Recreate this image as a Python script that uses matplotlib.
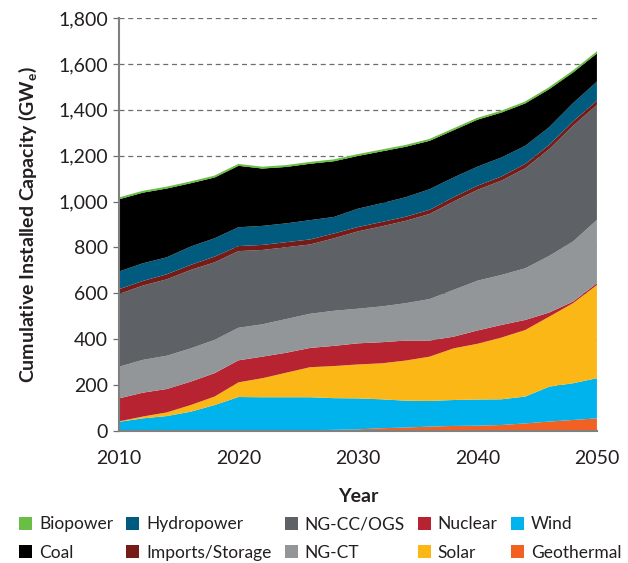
import matplotlib
matplotlib.use("Agg")
import matplotlib.pyplot as plt
from matplotlib.patches import Patch
import numpy as np

plt.rcParams['font.family'] = ['Lato', 'DejaVu Sans']

years = [2010, 2012, 2014, 2016, 2018, 2020, 2022, 2024, 2026, 2028, 2030,
         2032, 2034, 2036, 2038, 2040, 2042, 2044, 2046, 2048, 2050]

# Installed capacity by technology (GWe), stacked bottom to top
geothermal = [2, 2, 2, 2, 2, 2, 2, 3, 3, 5, 7, 12, 15, 19, 22, 23, 26, 33, 41, 48, 55]
wind = [38, 53, 63, 82, 111, 146, 145, 144, 144, 138, 135, 126, 117, 112, 113, 114, 112, 117, 152, 160, 175]
solar = [2, 8, 16, 29, 37, 64, 83, 107, 131, 140, 148, 157, 175, 193, 225, 243, 269, 290, 305, 349, 406]
nuclear = [100, 104, 102, 102, 102, 96, 94, 87, 84, 88, 92, 92, 87, 70, 51, 58, 55, 44, 18, 7, 8]
ng_ct = [138, 143, 145, 145, 145, 142, 141, 147, 149, 153, 151, 156, 163, 181, 204, 217, 218, 225, 247, 262, 276]
ng_cc = [317, 324, 333, 342, 338, 334, 324, 313, 302, 316, 337, 349, 359, 371, 385, 396, 411, 436, 465, 504, 501]
imports_storage = [21, 20, 22, 22, 25, 22, 22, 22, 22, 21, 19, 19, 18, 18, 19, 18, 18, 19, 19, 19, 19]
hydropower = [77, 77, 74, 80, 80, 82, 83, 82, 84, 72, 80, 82, 85, 90, 86, 83, 83, 79, 77, 80, 83]
coal = [315, 308, 300, 276, 265, 268, 250, 246, 246, 243, 230, 226, 220, 211, 206, 205, 196, 185, 166, 134, 123]
biopower = [4] * len(years)

y_ticks = [0, 200, 400, 600, 800, 1000, 1200, 1400, 1600, 1800]
x_ticks = [2010, 2020, 2030, 2040, 2050]

colors = {
    'Geothermal': '#f26122',
    'Wind': '#00b3ec',
    'Solar': '#fbb715',
    'Nuclear': '#b72330',
    'NG-CT': '#929699',
    'NG-CC/OGS': '#5e6266',
    'Imports/Storage': '#761c18',
    'Hydropower': '#015b7e',
    'Coal': '#000000',
    'Biopower': '#6abd45',
}

series = [
    ('Geothermal', geothermal),
    ('Wind', wind),
    ('Solar', solar),
    ('Nuclear', nuclear),
    ('NG-CT', ng_ct),
    ('NG-CC/OGS', ng_cc),
    ('Imports/Storage', imports_storage),
    ('Hydropower', hydropower),
    ('Coal', coal),
    ('Biopower', biopower),
]

fig = plt.figure(figsize=(6.28, 5.63), dpi=100)
ax = fig.add_axes([0.1895, 0.2345, 0.761, 0.7335])

ax.stackplot(years, *[np.array(v) for _, v in series],
             colors=[colors[n] for n, _ in series], linewidth=0, zorder=2)
total = np.sum([np.array(v) for _, v in series], axis=0)
ax.plot(years, total, color=colors['Biopower'], linewidth=1.3, zorder=3)

ax.set_xlim(2010, 2050)
ax.set_ylim(0, 1800)
ax.set_yticks(y_ticks)
ax.set_yticklabels([f'{v:,}' for v in y_ticks])
ax.set_xticks(x_ticks)
ax.set_xticklabels([str(v) for v in x_ticks])

ax.yaxis.grid(True, linestyle=(0, (4, 3)), color='#6d6e71', linewidth=0.9, zorder=0)
ax.set_axisbelow(True)

for side in ('top', 'right'):
    ax.spines[side].set_visible(False)
for side in ('left', 'bottom'):
    ax.spines[side].set_color('#808080')
    ax.spines[side].set_linewidth(1.5)
    ax.spines[side].set_zorder(4)

ax.tick_params(axis='y', length=4, width=0.9, color='#6d6e71', labelsize=14,
               labelcolor='#231f20', pad=4)
ax.tick_params(axis='x', length=0, labelsize=14, labelcolor='#231f20', pad=14)

ax.set_xlabel('Year', fontsize=14, fontweight='bold', color='#231f20', labelpad=15)
ax.set_ylabel('Cumulative Installed Capacity (GW$_\\mathregular{e}$)', fontsize=14,
              fontweight='bold', color='#231f20', labelpad=14)

legend_order = ['Biopower', 'Coal', 'Hydropower', 'Imports/Storage', 'NG-CC/OGS',
                'NG-CT', 'Nuclear', 'Solar', 'Wind', 'Geothermal']
handles = [Patch(facecolor=colors[n], edgecolor='none', label=n) for n in legend_order]
fig.legend(handles=handles, ncol=5, loc='lower center', bbox_to_anchor=(0.51, -0.024),
           frameon=False, fontsize=12.5, handlelength=0.75, handleheight=0.75,
           handletextpad=0.4, columnspacing=0.75, labelspacing=0.72, labelcolor='#231f20')

fig.savefig('out.png', dpi=100)
